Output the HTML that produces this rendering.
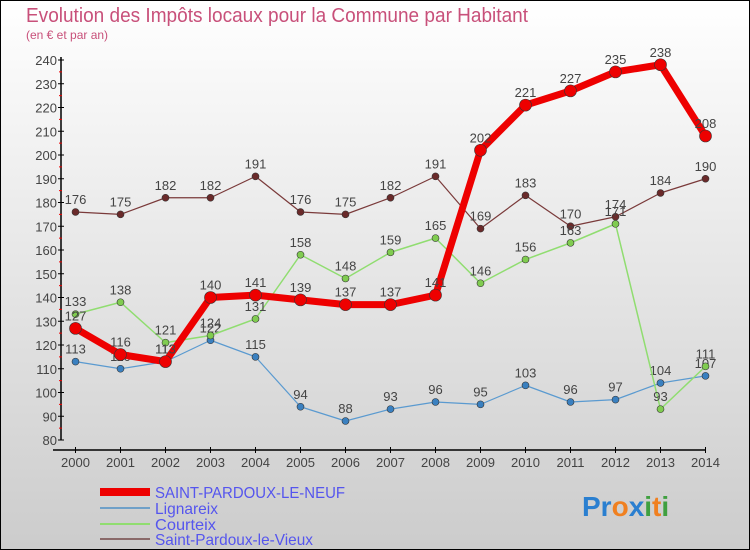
<!DOCTYPE html>
<html><head><meta charset="utf-8"><style>
body{margin:0}
#c{width:750px;height:550px;position:relative;overflow:hidden}
svg text{font-family:"Liberation Sans Narrow","Liberation Sans",sans-serif}
</style></head><body>
<div id="c">
<svg width="750" height="550" id="s">
<defs><linearGradient id="bg" x1="0" y1="0" x2="0" y2="1"><stop offset="0" stop-color="#ffffff"/><stop offset="1" stop-color="#cccccc"/></linearGradient></defs>
<rect x="0.5" y="0.5" width="749" height="549" fill="url(#bg)" stroke="#000"/>
<text x="26" y="22" font-size="20" fill="#c8507a" textLength="502" lengthAdjust="spacingAndGlyphs">Evolution des Impôts locaux pour la Commune par Habitant</text>
<text x="26" y="39" font-size="12" fill="#c8507a">(en € et par an)</text>
<g id="axes"></g><g id="series"></g>
<g>
<line x1="100" y1="492" x2="150" y2="492" stroke="#ee0000" stroke-width="8"/>
<text x="155" y="498" font-size="16" fill="#5555ee" textLength="190" lengthAdjust="spacingAndGlyphs">SAINT-PARDOUX-LE-NEUF</text>
<line x1="100" y1="508" x2="150" y2="508" stroke="#6fa0c8" stroke-width="2"/>
<text x="155" y="514" font-size="16" fill="#5555ee" textLength="63" lengthAdjust="spacingAndGlyphs">Lignareix</text>
<line x1="100" y1="524" x2="150" y2="524" stroke="#90dd70" stroke-width="2"/>
<text x="155" y="530" font-size="16" fill="#5555ee" textLength="61" lengthAdjust="spacingAndGlyphs">Courteix</text>
<line x1="100" y1="539" x2="150" y2="539" stroke="#8a6a6a" stroke-width="2"/>
<text x="155" y="545" font-size="16" fill="#5555ee" textLength="158" lengthAdjust="spacingAndGlyphs">Saint-Pardoux-le-Vieux</text>
</g>
<text x="582" y="516" font-size="28" font-weight="bold"><tspan fill="#2a7fd0">Pr</tspan><tspan fill="#f08020">o</tspan><tspan fill="#2a7fd0">x</tspan><tspan fill="#40a040">i</tspan><tspan fill="#f08020">t</tspan><tspan fill="#40a040">i</tspan></text>
</svg></div>
<script>
const years=[2000,2001,2002,2003,2004,2005,2006,2007,2008,2009,2010,2011,2012,2013,2014];
const neuf=[127,116,113,140,141,139,137,137,141,202,221,227,235,238,208];
const lignareix=[113,110,113,122,115,94,88,93,96,95,103,96,97,104,107];
const courteix=[133,138,121,124,131,158,148,159,165,146,156,163,171,93,111];
const vieux=[176,175,182,182,191,176,175,182,191,169,183,170,174,184,190];
const yTicks=[80,90,100,110,120,130,140,150,160,170,180,190,200,210,220,230,240];
const NS="http://www.w3.org/2000/svg";
const x=i=>75.5+i*(705.5-75.5)/(years.length-1);
const y=v=>440-(v-80)*380/160;
function mk(t,a,p){const e=document.createElementNS(NS,t);for(const k in a)e.setAttribute(k,a[k]);p.appendChild(e);return e;}
const ax=document.getElementById('axes');
let l=mk('line',{x1:61,y1:57,x2:61,y2:440,stroke:'#000','stroke-width':1.5},ax);


l=mk('line',{x1:53,y1:450,x2:706,y2:450,stroke:'#000','stroke-width':1.5},ax);


yTicks.forEach((v,i)=>{
 mk('line',{x1:58,y1:y(v),x2:64,y2:y(v),stroke:'#000'},ax);
 if(i<yTicks.length-1)mk('line',{x1:59,y1:y(v+5),x2:62,y2:y(v+5),stroke:'#e00'},ax);
 const t=mk('text',{x:57,y:y(v)+5,'font-size':13,fill:'#444','text-anchor':'end'},ax);t.textContent=v;
 
 
});
years.forEach((yr,i)=>{
 mk('line',{x1:x(i),y1:447,x2:x(i),y2:453,stroke:'#000'},ax);
 const t=mk('text',{x:x(i),y:467,'font-size':13,fill:'#444','text-anchor':'middle'},ax);t.textContent=yr;
 
 
});
const sg=document.getElementById('series');
function series(d,name,col,w,r,fill){
 const g=mk('g',{},sg);
 
 
 const p=mk('polyline',{points:d.map((v,i)=>x(i)+','+y(v)).join(' '),fill:'none',stroke:col,'stroke-width':w,'stroke-linejoin':'round'},g);
 
 
 d.forEach((v,i)=>{
  const c=mk('circle',{cx:x(i),cy:y(v),r:r,fill:fill,stroke:'#333','stroke-width':0.6},g);
  
  
  const t=mk('text',{x:x(i),y:y(v)-8,'font-size':13,fill:'#444','text-anchor':'middle'},g);t.textContent=v;
  
  
 });
}
series(vieux,'saint-pardoux-le-vieux','#7a3a3a',1.2,3.5,'#6a2a2a');
series(lignareix,'lignareix','#5a9ad0',1.2,3.5,'#3a80c0');
series(courteix,'courteix','#90dd70',1.5,3.5,'#80cc50');
series(neuf,'saint-pardoux-le-neuf','#ee0000',7,6,'#ee0000');
</script>
</body></html>
